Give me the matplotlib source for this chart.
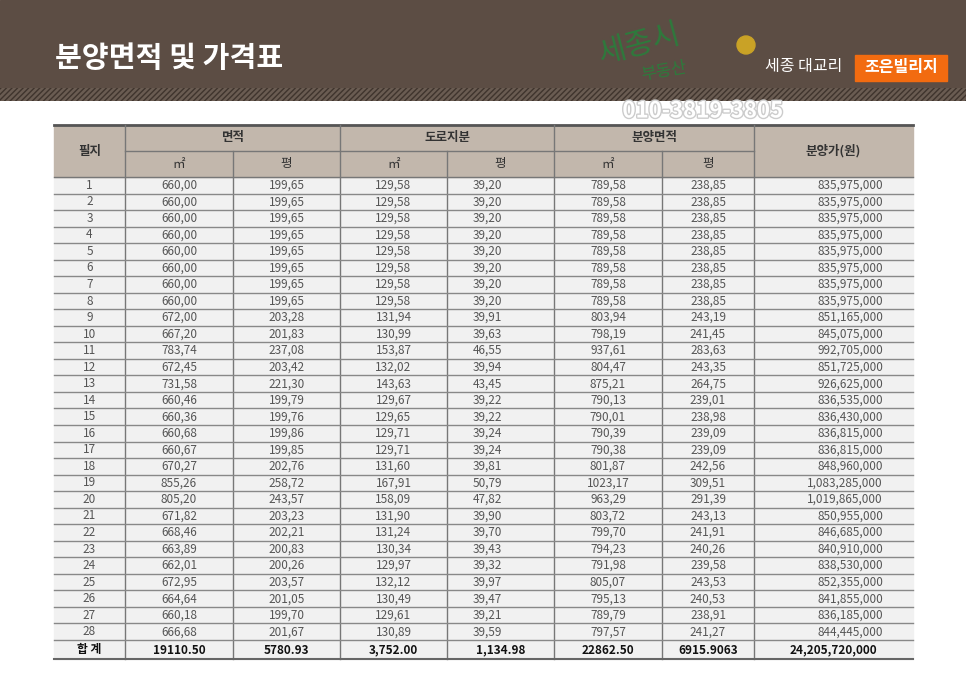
import matplotlib
matplotlib.use('Agg')
import matplotlib.pyplot as plt
import matplotlib.patheffects as pe
from matplotlib.patches import Rectangle

plt.rcParams['font.family'] = 'Noto Sans CJK KR'

# table data (as printed, comma decimal separators)
lots = [str(i) for i in range(1, 29)]
area_m2 = ['660,00'] * 8 + ['672,00', '667,20', '783,74', '672,45', '731,58', '660,46', '660,36', '660,68',
                            '660,67', '670,27', '855,26', '805,20', '671,82', '668,46', '663,89', '662,01',
                            '672,95', '664,64', '660,18', '666,68']
area_py = ['199,65'] * 8 + ['203,28', '201,83', '237,08', '203,42', '221,30', '199,79', '199,76', '199,86',
                            '199,85', '202,76', '258,72', '243,57', '203,23', '202,21', '200,83', '200,26',
                            '203,57', '201,05', '199,70', '201,67']
road_m2 = ['129,58'] * 8 + ['131,94', '130,99', '153,87', '132,02', '143,63', '129,67', '129,65', '129,71',
                            '129,71', '131,60', '167,91', '158,09', '131,90', '131,24', '130,34', '129,97',
                            '132,12', '130,49', '129,61', '130,89']
road_py = ['39,20'] * 8 + ['39,91', '39,63', '46,55', '39,94', '43,45', '39,22', '39,22', '39,24',
                           '39,24', '39,81', '50,79', '47,82', '39,90', '39,70', '39,43', '39,32',
                           '39,97', '39,47', '39,21', '39,59']
sale_m2 = ['789,58'] * 8 + ['803,94', '798,19', '937,61', '804,47', '875,21', '790,13', '790,01', '790,39',
                            '790,38', '801,87', '1023,17', '963,29', '803,72', '799,70', '794,23', '791,98',
                            '805,07', '795,13', '789,79', '797,57']
sale_py = ['238,85'] * 8 + ['243,19', '241,45', '283,63', '243,35', '264,75', '239,01', '238,98', '239,09',
                            '239,09', '242,56', '309,51', '291,39', '243,13', '241,91', '240,26', '239,58',
                            '243,53', '240,53', '238,91', '241,27']
price = ['835,975,000'] * 8 + ['851,165,000', '845,075,000', '992,705,000', '851,725,000', '926,625,000',
                               '836,535,000', '836,430,000', '836,815,000', '836,815,000', '848,960,000',
                               '1,083,285,000', '1,019,865,000', '850,955,000', '846,685,000', '840,910,000',
                               '838,530,000', '852,355,000', '841,855,000', '836,185,000', '844,445,000']
totals = ['합 계', '19110.50', '5780.93', '3,752.00', '1,134.98', '22862.50', '6915.9063', '24,205,720,000']
groups = ['면적', '도로지분', '분양면적']
units = ['㎡', '평']

fig = plt.figure(figsize=(9.66, 6.73), dpi=100)
ax = fig.add_axes([0, 0, 1, 1])
ax.set_xlim(0, 966)
ax.set_ylim(673, 0)
ax.axis('off')

# top banner
ax.add_patch(Rectangle((0, 0), 966, 90, color='#5c4d44'))
ax.add_patch(Rectangle((0, 88), 966, 13, color='#6a5c52', hatch='//////', ec='#3f342d', lw=0))
ax.text(55, 58, '분양면적 및 가격표', color='white', fontsize=21, fontweight='bold', va='center')
ax.text(595, 45, '세종시', color='#2e7a3c', fontsize=22, rotation=15, va='center', style='italic')
ax.text(640, 72, '부동산', color='#2e7a3c', fontsize=12, rotation=10, va='center')
ax.add_patch(plt.Circle((746, 45), 9, color='#c9a226'))
ax.text(765, 67, '세종 대교리', color='white', fontsize=11.5, va='center')
ax.add_patch(Rectangle((855, 55), 92, 26, color='#f26b10'))
ax.text(901, 67, '조은빌리지', color='white', fontsize=11.5, fontweight='bold', va='center', ha='center')
ax.text(703, 111, '010-3819-3805', color='white', fontsize=16, fontweight='bold', ha='center', va='center',
        path_effects=[pe.withStroke(linewidth=2, foreground='#cccccc')])

xs = [54, 125, 233, 340, 447, 554, 662, 754, 913]
top, mid, htop = 125, 151, 177
rh = (640 - 177) / 28
hdr = '#c2b7ac'
txt = '#555555'

ax.add_patch(Rectangle((54, top), 859, htop - top, color=hdr))
ax.plot([54, 913], [top, top], color='#555', lw=2)
ax.plot([54, 913], [htop, htop], color='#777', lw=1)
ax.plot([125, 754], [mid, mid], color='#777', lw=1)
for x in [125, 340, 554, 754]:
    ax.plot([x, x], [top, 659], color='#777', lw=1)
for x in [233, 447, 662]:
    ax.plot([x, x], [mid, 659], color='#777', lw=1)
ax.text(89.5, 151, '필지', ha='center', va='center', fontsize=9, color='#333', fontweight='bold')
ax.text(833.5, 151, '분양가(원)', ha='center', va='center', fontsize=9, color='#333', fontweight='bold')
for g, name in enumerate(groups):
    x0, x1, x2 = xs[1 + 2 * g], xs[2 + 2 * g], xs[3 + 2 * g]
    ax.text((x0 + x2) / 2, 138, name, ha='center', va='center', fontsize=9, color='#333', fontweight='bold')
    ax.text((x0 + x1) / 2, 164, units[0], ha='center', va='center', fontsize=9, color='#333')
    ax.text((x1 + x2) / 2, 164, units[1], ha='center', va='center', fontsize=9, color='#333')

cols = [lots, area_m2, area_py, road_m2, road_py, sale_m2, sale_py, price]
for i in range(28):
    y = htop + i * rh
    ax.add_patch(Rectangle((54, y), 859, rh, color='#f1f1f1', zorder=0))
    ax.plot([54, 913], [y + rh, y + rh], color='#888', lw=1)
    for c, col in enumerate(cols):
        if c in (4, 7):
            ax.text(xs[c + 1] - 30 if c == 7 else xs[c + 1] - 52, y + rh / 2, col[i], ha='right', va='center',
                    fontsize=8.5, color=txt)
        else:
            ax.text((xs[c] + xs[c + 1]) / 2, y + rh / 2, col[i], ha='center', va='center', fontsize=8.5, color=txt)
ax.add_patch(Rectangle((54, 640), 859, 19, color='#f1f1f1', zorder=0))
ax.plot([54, 913], [659, 659], color='#666', lw=1.5)
for c, t in enumerate(totals):
    ax.text((xs[c] + xs[c + 1]) / 2, 650, t, ha='center', va='center', fontsize=8.5, color='#111', fontweight='bold')

fig.savefig('out.png', dpi=100)
